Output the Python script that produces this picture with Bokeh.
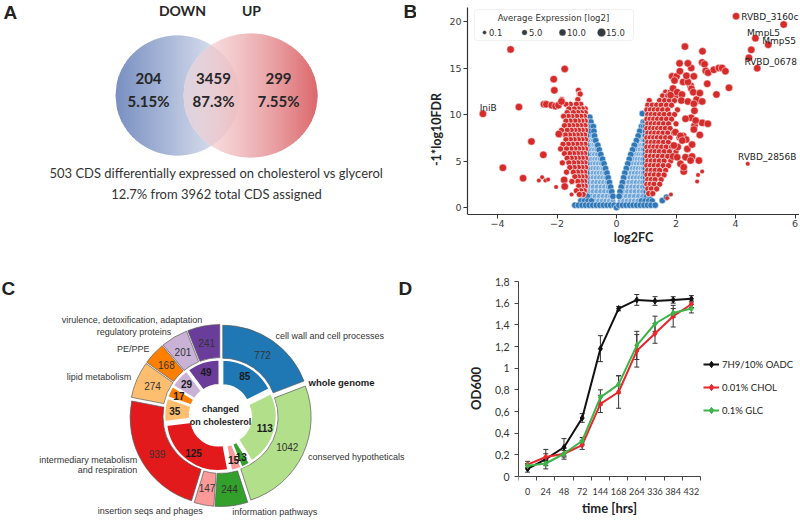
import math
from bokeh.plotting import figure
from bokeh.layouts import column, row
from bokeh.models import (ColumnDataSource, Range1d, FixedTicker, Whisker, TeeHead,
                          Legend, LegendItem, BoxAnnotation, CustomJSTickFormatter)
from bokeh.core.properties import value
from bokeh.embed import file_html
from bokeh.resources import INLINE

# ---------------- Panel A: Venn ----------------
venn_sets = ["DOWN", "UP"]
venn_counts = ["204", "3459", "299"]
venn_pcts = ["5.15%", "87.3%", "7.55%"]
venn_caption = ["503 CDS differentially expressed on cholesterol vs glycerol",
                "12.7% from 3962 total CDS assigned"]

# ---------------- Panel B: volcano ----------------
b_xticks = [-4, -2, 0, 2, 4, 6]
b_yticks = [0, 5, 10, 15, 20]
blue_solid = [
    (-0.97, 9.7), (-0.9, 9.7),
    (-1.0, 9.2), (-0.93, 9.2), (-0.86, 9.2),
    (-1.0, 8.7), (-0.92, 8.7), (-0.84, 8.7), (-0.78, 8.7),
    (-1.0, 8.2), (-0.93, 8.2), (-0.76, 8.2),
    (-1.0, 7.7), (-0.74, 7.7), (-1.0, 7.2), (-0.7, 7.2),
    (-1.0, 6.7), (-0.63, 6.7), (-1.0, 6.2), (-0.58, 6.2),
    (-1.0, 5.7), (-0.53, 5.7), (-1.0, 5.2), (-0.47, 5.2),
    (-1.0, 4.7), (-0.42, 4.7), (-1.0, 4.2), (-0.37, 4.2),
    (-1.0, 3.7), (-0.32, 3.7), (-1.0, 3.2), (-0.28, 3.2),
    (-1.02, 2.7), (-0.24, 2.7), (-1.04, 2.2), (-0.2, 2.2),
    (-1.06, 1.7), (-0.16, 1.7), (-1.1, 1.2), (-0.98, 1.2), (-0.12, 1.2),
    (-1.2, 0.7), (-1.08, 0.7), (-0.96, 0.7), (-0.84, 0.7),
    (-1.4, 0.25), (-1.28, 0.25), (-1.16, 0.25), (-1.04, 0.25), (-0.92, 0.25),
    (-0.8, 0.25), (-0.68, 0.25), (-0.56, 0.25), (-0.44, 0.25), (-0.32, 0.25),
    (-0.2, 0.25), (-0.08, 0.25), (0.0, 0.0),
    (0.87, 10.1), (0.9, 9.2), (0.96, 9.2),
    (0.84, 8.7), (0.91, 8.7), (0.97, 8.7), (0.78, 8.2), (0.97, 8.2),
    (0.73, 7.7), (0.97, 7.7), (0.67, 7.2), (0.97, 7.2),
    (0.6, 6.7), (0.97, 6.7), (0.54, 6.2), (0.97, 6.2),
    (0.48, 5.7), (0.97, 5.7), (0.43, 5.2), (0.97, 5.2),
    (0.38, 4.7), (0.97, 4.7), (0.33, 4.2), (0.97, 4.2),
    (0.28, 3.7), (0.97, 3.7), (0.24, 3.2), (0.98, 3.2),
    (0.2, 2.7), (0.98, 2.7), (0.16, 2.2), (0.99, 2.2),
    (0.12, 1.7), (1.0, 1.7), (0.09, 1.2), (1.02, 1.2), (1.12, 1.2),
    (0.84, 0.7), (0.96, 0.7), (1.08, 0.7), (1.2, 0.7),
    (0.08, 0.25), (0.2, 0.25), (0.32, 0.25), (0.44, 0.25), (0.56, 0.25),
    (0.68, 0.25), (0.8, 0.25), (0.92, 0.25), (1.04, 0.25), (1.16, 0.25), (1.3, 0.25),
    (1.54, 0.75), (1.68, 1.1),
]
blue_light = [
    (-0.86, 8.2), (-0.93, 7.7), (-0.84, 7.7),
    (-0.92, 7.2), (-0.84, 7.2), (-0.77, 7.2),
    (-0.92, 6.7), (-0.84, 6.7), (-0.76, 6.7), (-0.69, 6.7),
    (-0.92, 6.2), (-0.83, 6.2), (-0.74, 6.2), (-0.66, 6.2),
    (-0.92, 5.7), (-0.83, 5.7), (-0.74, 5.7), (-0.64, 5.7),
    (-0.91, 5.2), (-0.82, 5.2), (-0.73, 5.2), (-0.64, 5.2), (-0.55, 5.2),
    (-0.91, 4.7), (-0.81, 4.7), (-0.71, 4.7), (-0.61, 4.7), (-0.51, 4.7),
    (-0.9, 4.2), (-0.8, 4.2), (-0.7, 4.2), (-0.6, 4.2), (-0.5, 4.2), (-0.44, 4.2),
    (-0.9, 3.7), (-0.79, 3.7), (-0.68, 3.7), (-0.58, 3.7), (-0.48, 3.7), (-0.39, 3.7),
    (-0.9, 3.2), (-0.79, 3.2), (-0.68, 3.2), (-0.57, 3.2), (-0.46, 3.2), (-0.36, 3.2),
    (-0.9, 2.7), (-0.78, 2.7), (-0.66, 2.7), (-0.54, 2.7), (-0.43, 2.7), (-0.32, 2.7),
    (-0.9, 2.2), (-0.78, 2.2), (-0.65, 2.2), (-0.52, 2.2), (-0.4, 2.2), (-0.28, 2.2),
    (-0.92, 1.7), (-0.79, 1.7), (-0.66, 1.7), (-0.53, 1.7), (-0.4, 1.7), (-0.27, 1.7),
    (-0.85, 1.2), (-0.72, 1.2), (-0.58, 1.2), (-0.45, 1.2), (-0.32, 1.2), (-0.2, 1.2),
    (-0.72, 0.7), (-0.6, 0.7), (-0.48, 0.7), (-0.36, 0.7), (-0.24, 0.7), (-0.12, 0.7),
    (0.86, 8.2), (0.82, 7.7), (0.9, 7.7),
    (0.76, 7.2), (0.84, 7.2), (0.91, 7.2),
    (0.69, 6.7), (0.77, 6.7), (0.85, 6.7), (0.92, 6.7),
    (0.63, 6.2), (0.72, 6.2), (0.8, 6.2), (0.89, 6.2),
    (0.57, 5.7), (0.66, 5.7), (0.75, 5.7), (0.84, 5.7), (0.91, 5.7),
    (0.52, 5.2), (0.61, 5.2), (0.7, 5.2), (0.79, 5.2), (0.88, 5.2),
    (0.47, 4.7), (0.57, 4.7), (0.67, 4.7), (0.77, 4.7), (0.87, 4.7),
    (0.43, 4.2), (0.53, 4.2), (0.63, 4.2), (0.73, 4.2), (0.83, 4.2), (0.9, 4.2),
    (0.38, 3.7), (0.49, 3.7), (0.6, 3.7), (0.71, 3.7), (0.82, 3.7), (0.9, 3.7),
    (0.34, 3.2), (0.45, 3.2), (0.56, 3.2), (0.67, 3.2), (0.78, 3.2), (0.88, 3.2),
    (0.3, 2.7), (0.42, 2.7), (0.54, 2.7), (0.66, 2.7), (0.78, 2.7), (0.88, 2.7),
    (0.27, 2.2), (0.39, 2.2), (0.51, 2.2), (0.63, 2.2), (0.75, 2.2), (0.87, 2.2),
    (0.24, 1.7), (0.37, 1.7), (0.5, 1.7), (0.63, 1.7), (0.76, 1.7), (0.88, 1.7),
    (0.2, 1.2), (0.33, 1.2), (0.46, 1.2), (0.6, 1.2), (0.74, 1.2), (0.88, 1.2),
    (0.12, 0.7), (0.24, 0.7), (0.36, 0.7), (0.48, 0.7), (0.6, 0.7), (0.72, 0.7),
]
red_dense = [
    (-1.28, 12.6), (-1.25, 12.2), (-1.22, 12.2), (-1.3, 11.6), (-1.84, 11.6),
    (-1.2, 11.1), (-1.35, 11.1), (-1.55, 11.1), (-1.7, 11.1),
    (-1.05, 10.6), (-1.15, 10.6), (-1.28, 10.6), (-1.42, 10.6), (-1.6, 10.6),
    (-1.05, 10.2), (-1.18, 10.2), (-1.3, 10.2), (-1.45, 10.2), (-1.66, 10.2),
    (-1.08, 9.8), (-1.2, 9.8), (-1.34, 9.8), (-1.5, 9.8), (-1.62, 9.8), (-1.78, 9.8),
    (-1.05, 9.3), (-1.16, 9.3), (-1.28, 9.3), (-1.4, 9.3), (-1.56, 9.3), (-1.7, 9.3),
    (-1.06, 8.8), (-1.2, 8.8), (-1.33, 8.8), (-1.47, 8.8), (-1.6, 8.8), (-1.75, 8.8),
    (-1.04, 8.3), (-1.15, 8.3), (-1.27, 8.3), (-1.4, 8.3), (-1.52, 8.3), (-1.66, 8.3), (-1.85, 8.3),
    (-1.07, 7.8), (-1.2, 7.8), (-1.32, 7.8), (-1.45, 7.8), (-1.58, 7.8), (-1.72, 7.8), (-1.9, 7.8),
    (-1.04, 7.3), (-1.16, 7.3), (-1.28, 7.3), (-1.42, 7.3), (-1.55, 7.3), (-1.7, 7.3),
    (-1.06, 6.8), (-1.2, 6.8), (-1.33, 6.8), (-1.48, 6.8), (-1.62, 6.8), (-1.8, 6.8),
    (-1.04, 6.3), (-1.15, 6.3), (-1.27, 6.3), (-1.4, 6.3), (-1.53, 6.3), (-1.68, 6.3), (-1.88, 6.3),
    (-1.07, 5.8), (-1.19, 5.8), (-1.31, 5.8), (-1.44, 5.8), (-1.58, 5.8), (-1.75, 5.8),
    (-1.04, 5.3), (-1.15, 5.3), (-1.28, 5.3), (-1.4, 5.3), (-1.52, 5.3), (-1.66, 5.3),
    (-1.06, 4.8), (-1.18, 4.8), (-1.3, 4.8), (-1.44, 4.8), (-1.6, 4.8), (-1.82, 4.8),
    (-1.04, 4.3), (-1.16, 4.3), (-1.28, 4.3), (-1.42, 4.3), (-1.57, 4.3),
    (-1.07, 3.8), (-1.19, 3.8), (-1.31, 3.8), (-1.45, 3.8), (-1.68, 3.8),
    (-1.05, 3.3), (-1.16, 3.3), (-1.28, 3.3), (-1.4, 3.3),
    (-1.07, 2.8), (-1.18, 2.8), (-1.3, 2.8), (-1.5, 2.8),
    (-1.05, 2.3), (-1.16, 2.3), (-1.27, 2.3), (-1.08, 1.8), (-1.2, 1.8), (-1.35, 1.8),
    (-1.12, 1.4), (-1.25, 1.4),
    (1.65, 12.4), (1.8, 12.4), (1.55, 12.0), (1.72, 12.0), (1.88, 12.0), (2.0, 12.0),
    (1.1, 11.5), (1.45, 11.5), (1.62, 11.5), (1.78, 11.5), (1.95, 11.5),
    (1.05, 11.0), (1.2, 11.0), (1.35, 11.0), (1.5, 11.0), (1.68, 11.0), (1.85, 11.0),
    (1.02, 10.5), (1.14, 10.5), (1.27, 10.5), (1.4, 10.5), (1.55, 10.5), (1.72, 10.5), (2.05, 10.5),
    (1.05, 10.0), (1.17, 10.0), (1.3, 10.0), (1.45, 10.0), (1.6, 10.0), (1.78, 10.0), (1.95, 10.0),
    (1.02, 9.5), (1.13, 9.5), (1.25, 9.5), (1.38, 9.5), (1.52, 9.5), (1.68, 9.5), (1.85, 9.5),
    (1.05, 9.0), (1.17, 9.0), (1.3, 9.0), (1.43, 9.0), (1.58, 9.0), (1.75, 9.0), (2.0, 9.0),
    (1.02, 8.5), (1.14, 8.5), (1.26, 8.5), (1.38, 8.5), (1.5, 8.5), (1.64, 8.5), (1.8, 8.5),
    (1.05, 8.0), (1.17, 8.0), (1.29, 8.0), (1.42, 8.0), (1.56, 8.0), (1.72, 8.0), (1.92, 8.0),
    (1.02, 7.5), (1.13, 7.5), (1.25, 7.5), (1.37, 7.5), (1.5, 7.5), (1.65, 7.5), (1.8, 7.5), (2.1, 7.5),
    (1.05, 7.0), (1.17, 7.0), (1.29, 7.0), (1.42, 7.0), (1.57, 7.0), (1.74, 7.0),
    (1.02, 6.5), (1.14, 6.5), (1.26, 6.5), (1.39, 6.5), (1.52, 6.5), (1.67, 6.5), (1.85, 6.5),
    (1.05, 6.0), (1.17, 6.0), (1.3, 6.0), (1.44, 6.0), (1.6, 6.0), (1.78, 6.0), (2.0, 6.0),
    (1.02, 5.5), (1.14, 5.5), (1.27, 5.5), (1.4, 5.5), (1.55, 5.5), (1.72, 5.5),
    (1.05, 5.0), (1.17, 5.0), (1.3, 5.0), (1.44, 5.0), (1.6, 5.0), (1.82, 5.0),
    (1.02, 4.5), (1.14, 4.5), (1.27, 4.5), (1.41, 4.5), (1.57, 4.5), (1.75, 4.5),
    (1.05, 4.0), (1.17, 4.0), (1.3, 4.0), (1.45, 4.0), (1.65, 4.0),
    (1.02, 3.5), (1.14, 3.5), (1.27, 3.5), (1.42, 3.5), (1.6, 3.5),
    (1.05, 3.0), (1.17, 3.0), (1.3, 3.0), (1.5, 3.0),
    (1.02, 2.5), (1.13, 2.5), (1.26, 2.5), (1.45, 2.5),
    (1.05, 2.0), (1.17, 2.0), (1.35, 2.0), (1.08, 1.5), (1.22, 1.5),
]
red_big = [
    (-4.49, 10.07), (-3.56, 17.0), (-3.82, 4.27), (-3.28, 10.8), (-3.14, 3.15),
    (-2.86, 7.1), (-2.46, 5.66), (-2.44, 11.1), (-2.36, 11.1), (-2.18, 11.0),
    (-2.05, 10.9), (-1.95, 11.0), (-1.85, 11.4), (-2.11, 13.8), (-2.09, 12.6),
    (-1.74, 14.9), (-1.94, 7.9), (-1.76, 2.97), (-1.74, 2.26),
    (1.82, 12.1), (1.9, 12.8), (2.04, 12.4), (2.2, 12.15), (2.49, 13.1), (2.52, 12.76),
    (2.58, 12.4), (2.74, 11.5), (2.69, 11.6), (2.88, 11.4), (2.8, 12.3), (2.18, 11.5),
    (2.4, 11.4), (2.6, 11.15), (2.62, 10.4), (2.51, 9.64), (2.32, 9.53), (2.88, 9.1),
    (3.07, 9.0), (2.62, 8.8), (2.6, 8.4), (2.8, 7.8), (2.24, 7.7), (2.34, 7.3),
    (2.06, 6.5), (2.38, 6.3), (2.54, 6.77), (1.9, 5.48), (2.32, 5.41), (2.54, 5.48),
    (2.77, 5.05), (2.26, 3.87), (2.24, 13.5), (2.4, 13.5), (2.35, 14.16), (2.6, 14.1),
    (1.87, 14.1), (2.02, 14.1), (1.95, 13.65), (2.13, 14.66), (2.51, 15.0), (2.12, 15.5),
    (2.4, 15.5), (2.3, 17.3), (2.89, 16.8), (2.88, 15.6), (2.96, 15.4), (3.0, 14.7),
    (3.08, 14.5), (3.27, 14.8), (3.44, 15.0), (3.55, 15.0), (3.66, 14.66), (3.05, 13.3),
    (3.36, 12.15), (3.78, 12.87), (4.45, 16.1), (4.53, 16.95), (4.73, 14.98),
    (5.1, 17.5), (4.67, 18.2), (5.62, 19.68), (4.02, 20.57),
    (1.98, 8.1), (2.15, 7.7), (2.21, 7.2), (1.93, 6.67), (2.04, 5.4), (2.15, 4.7),
    (2.49, 5.05), (2.26, 4.33), (2.66, 9.35),
]
red_small = [
    (-2.61, 2.9), (-2.5, 3.26), (-2.39, 2.9), (-2.3, 3.0), (-2.03, 2.2), (-1.51, 1.4),
    (2.88, 3.87), (2.74, 3.5), (2.71, 2.8), (1.83, 1.4), (4.41, 4.7), (1.7, 1.0),
]
gene_labels = ["RVBD_3160c", "MmpL5", "MmpS5", "RVBD_0678", "RVBD_2856B", "IniB"]
gene_lab_x = [4.19, 4.39, 4.9, 4.3, 4.08, -4.6]
gene_lab_y = [20.47, 18.78, 17.9, 15.6, 5.4, 10.7]
size_legend_labels = ["0.1", "5.0", "10.0", "15.0"]
size_legend_px = [4, 5.5, 7, 8.5]

# ---------------- Panel C: nested donut ----------------
cat_names = ["cell wall and cell processes", "conserved hypotheticals",
             "information pathways", "insertion seqs and phages",
             "intermediary metabolism\nand respiration", "lipid metabolism",
             "PE/PPE", "regulatory proteins", "virulence, detoxification, adaptation"]
genome_counts = [772, 1042, 244, 147, 939, 274, 168, 201, 241]
changed_counts = [85, 113, 13, 15, 125, 35, 17, 29, 49]
cat_colors = ["#1f78b4", "#b2df8a", "#33a02c", "#fb9a99", "#e31a1c",
              "#fdbf6f", "#ff7f00", "#cab2d6", "#6a3d9a"]

# ---------------- Panel D: growth curves ----------------
times = ["0", "24", "48", "72", "144", "168", "264", "336", "384", "432"]
od_oadc = [0.07, 0.16, 0.27, 0.54, 1.18, 1.55, 1.63, 1.62, 1.63, 1.64]
err_oadc = [0.03, 0.09, 0.08, 0.04, 0.12, 0.02, 0.05, 0.04, 0.03, 0.03]
od_chol = [0.11, 0.18, 0.21, 0.29, 0.67, 0.78, 1.16, 1.32, 1.48, 1.59]
err_chol = [0.03, 0.03, 0.05, 0.04, 0.08, 0.15, 0.15, 0.09, 0.10, 0.03]
od_glc = [0.10, 0.12, 0.21, 0.33, 0.73, 0.85, 1.21, 1.41, 1.51, 1.55]
err_glc = [0.02, 0.02, 0.03, 0.03, 0.07, 0.08, 0.13, 0.07, 0.04, 0.04]
series_names = ["7H9/10% OADC", "0.01% CHOL", "0.1% GLC"]
series_colors = ["#111111", "#e8262b", "#3cb44a"]
d_yticks = [0, 0.2, 0.4, 0.6, 0.8, 1.0, 1.2, 1.4, 1.6, 1.8]

CAL = "Lato"
MPL = "DejaVu Sans"
NAR = "Liberation Sans"

W_LEFT, W_RIGHT = 416, 383
H_TOP, H_BOT = 258, 260


def blank_fig(w, h):
    p = figure(width=w, height=h, x_range=Range1d(0, w), y_range=Range1d(0, h),
               output_backend="svg", toolbar_location=None,
               x_axis_location=None, y_axis_location=None,
               min_border_left=0, min_border_right=0, min_border_top=0, min_border_bottom=0)
    p.grid.visible = False
    p.outline_line_color = None
    return p


def hexc(c):
    return "#%02x%02x%02x" % tuple(int(round(max(0, min(255, v)))) for v in c)


def mix(c1, c2, t):
    t = max(0.0, min(1.0, t))
    return tuple(c1[i] + (c2[i] - c1[i]) * t for i in range(3))


# ================= Panel A =================
pA = blank_fig(W_LEFT, H_TOP)


def ax(wx):
    return wx


def ay(wy):
    return H_TOP - wy


L = dict(cx=177, cy=95, rx=62, ry=60)
R = dict(cx=250, cy=95, rx=67, ry=62)
L_c0, L_c1 = (120, 143, 193), (238, 240, 247)
R_c0, R_c1 = (248, 224, 226), (220, 104, 108)
WHITE = (255, 255, 255)


def half_h(x, e):
    u = (x - e["cx"]) / e["rx"]
    return e["ry"] * math.sqrt(max(0.0, 1 - u * u))


def colL(x):
    return mix(L_c0, L_c1, (x - (L["cx"] - L["rx"])) / (2 * L["rx"]))


def colR_over(x, under):
    t = (x - (R["cx"] - R["rx"])) / (2 * R["rx"])
    a = 0.55 + 0.45 * max(0, min(1, t))
    return mix(under, mix(R_c0, R_c1, t), a)


def strips(x_lo, x_hi, hfun, cy, colfun, step=1.5):
    xs_l, ys_l, cols = [], [], []
    n = int(math.ceil((x_hi - x_lo) / step))
    for i in range(n):
        x0 = x_lo + i * step
        x1 = min(x_hi, x0 + step + 0.7)
        xm = [x0, (x0 + x1) / 2, x1]
        top = [cy - hfun(x) for x in xm]
        bot = [cy + hfun(x) for x in xm]
        px = xm + xm[::-1]
        py = top + bot[::-1]
        xs_l.append([ax(v) for v in px])
        ys_l.append([ay(v) for v in py])
        cols.append(hexc(colfun((x0 + x1) / 2)))
    return xs_l, ys_l, cols


allx, ally, allc = [], [], []
for part in (
    strips(L["cx"] - L["rx"], L["cx"] + L["rx"], lambda x: half_h(x, L), L["cy"], colL),
    strips(R["cx"] - R["rx"], R["cx"] + R["rx"], lambda x: half_h(x, R), R["cy"],
           lambda x: colR_over(x, WHITE)),
    strips(R["cx"] - R["rx"], L["cx"] + L["rx"], lambda x: min(half_h(x, L), half_h(x, R)),
           L["cy"], lambda x: colR_over(x, colL(x))),
):
    allx += part[0]
    ally += part[1]
    allc += part[2]
pA.patches("xs", "ys", source=ColumnDataSource(dict(xs=allx, ys=ally, c=allc)),
           fill_color="c", line_color=None)

pA.text(x=[ax(182), ax(251)], y=[ay(10), ay(10)], text=venn_sets,
        text_font=value(CAL), text_font_style="bold", text_font_size="14px",
        text_color="#262626", text_align="center", text_baseline="middle")
num_x = [ax(148), ax(213), ax(278)]
pA.text(x=num_x, y=[ay(78)] * 3, text=venn_counts,
        text_font=value(CAL), text_font_style="bold", text_font_size="15px",
        text_color="#262626", text_align="center", text_baseline="middle")
pA.text(x=num_x, y=[ay(100)] * 3, text=venn_pcts,
        text_font=value(CAL), text_font_style="bold", text_font_size="15px",
        text_color="#262626", text_align="center", text_baseline="middle")
pA.text(x=[ax(216), ax(216)], y=[ay(172), ay(193)], text=venn_caption,
        text_font=value(CAL), text_font_size="13px", text_color="#333333",
        text_align="center", text_baseline="middle")
pA.text(x=[ax(3), ax(403)], y=[ay(12), ay(11)], text=["A", "B"],
        text_font=value(NAR), text_font_style="bold", text_font_size="19px",
        text_color="#222222", text_align="left", text_baseline="middle")

# ================= Panel B =================
PXB = 29.75
X0B = 616.0
Y0B, PYB = 207.0, 9.3
pB_left = 467 - W_LEFT
pB = figure(width=W_RIGHT, height=H_TOP,
            x_range=Range1d((467 - X0B) / PXB, (W_LEFT + W_RIGHT - X0B) / PXB),
            y_range=Range1d(-(H_TOP - Y0B) / PYB, Y0B / PYB),
            output_backend="svg", toolbar_location=None,
            min_border_left=pB_left, min_border_right=0, min_border_top=0, min_border_bottom=0)
pB.outline_line_color = None
pB.grid.visible = False
for axis in (pB.xaxis[0], pB.yaxis[0]):
    axis.axis_line_color = "#333333"
    axis.axis_line_width = 1.2
    axis.major_tick_line_color = "#333333"
    axis.major_tick_out = 4
    axis.major_tick_in = 0
    axis.minor_tick_line_color = None
    axis.major_label_text_font = MPL
    axis.major_label_text_font_size = "9.5px"
    axis.major_label_text_color = "#3a3a3a"
    axis.major_label_standoff = 2
    axis.axis_label_text_font = CAL
    axis.axis_label_text_font_style = "bold"
    axis.axis_label_text_font_size = "12.5px"
    axis.axis_label_text_color = "#222222"
    axis.axis_label_standoff = 2
spine_y = -(214 - Y0B) / PYB
pB.xaxis.fixed_location = spine_y
pB.yaxis.bounds = (spine_y, (Y0B - 7) / PYB)
pB.xaxis.ticker = FixedTicker(ticks=b_xticks)
pB.yaxis.ticker = FixedTicker(ticks=b_yticks)
pB.xaxis.axis_label = "log2FC"
pB.yaxis.axis_label = "-1*log10FDR"
pB.xaxis.major_label_standoff = 1
pB.xaxis.axis_label_standoff = 0


def unzip(pts):
    return [p[0] for p in pts], [p[1] for p in pts]


bx, by = unzip(blue_light)
pB.scatter(bx, by, size=6, fill_color="#6fa5d9", line_color="white", line_width=0.6)
bx, by = unzip(blue_solid)
pB.scatter(bx, by, size=6.5, fill_color="#2f78b8", line_color="white", line_width=0.5)
rx_, ry_ = unzip(red_dense)
pB.scatter(rx_, ry_, size=6.2, fill_color="#d62b2b", line_color="white", line_width=0.7)
rx_, ry_ = unzip(red_big)
pB.scatter(rx_, ry_, size=7.5, fill_color="#d62b2b", line_color="white", line_width=0.5)
rx_, ry_ = unzip(red_small)
pB.scatter(rx_, ry_, size=4.5, fill_color="#d62b2b", line_color="white", line_width=0.4)
pB.text(x=gene_lab_x, y=gene_lab_y, text=gene_labels, text_font=value(MPL),
        text_font_size="9px", text_color="#222222", text_baseline="middle", text_align="left")

# size legend (box + dots)
pB.add_layout(BoxAnnotation(left=(474 - X0B) / PXB, right=(633 - X0B) / PXB,
                            bottom=(Y0B - 40) / PYB, top=(Y0B - 9) / PYB,
                            fill_color="white", fill_alpha=0.9, line_color="#d0d0d0",
                            line_width=1, border_radius=3))
pB.text(x=[(553 - X0B) / PXB], y=[(Y0B - 17) / PYB], text=["Average Expression [log2]"],
        text_font=value(MPL), text_font_size="8.5px", text_color="#333333",
        text_align="center", text_baseline="middle", level="overlay")
leg_dot_x = [(v - X0B) / PXB for v in (484, 524, 562, 601)]
leg_y = (Y0B - 32) / PYB
pB.scatter(leg_dot_x, [leg_y] * 4, size=size_legend_px, fill_color="#333a40",
           line_color="white", line_width=0.4, level="overlay")
pB.text(x=[v + 0.15 for v in leg_dot_x], y=[leg_y] * 4, text=size_legend_labels,
        text_font=value(MPL), text_font_size="8.5px", text_color="#333333",
        text_align="left", text_baseline="middle", level="overlay")

# ================= Panel C =================
pC = blank_fig(W_LEFT, H_BOT)
TOPC = H_TOP + H_BOT
cxC, cyC = 220.0, TOPC - 415.0
r_hole, r_in_out, r_out_in, r_out_out = 27.0, 52.0, 54.0, 87.0
expl = 4.0


def ring(values, lab_r):
    tot = float(sum(values))
    cum = 0.0
    d = dict(x=[], y=[], sa=[], ea=[], c=[], lx=[], ly=[], t=[], mid=[])
    for v, col in zip(values, cat_colors):
        th0 = cum / tot * 360.0
        th1 = (cum + v) / tot * 360.0
        mid = math.radians((th0 + th1) / 2)
        ox = cxC + expl * math.sin(mid)
        oy = cyC + expl * math.cos(mid)
        d["x"].append(ox)
        d["y"].append(oy)
        d["sa"].append(90.0 - th1)
        d["ea"].append(90.0 - th0)
        d["c"].append(col)
        d["lx"].append(ox + lab_r * math.sin(mid))
        d["ly"].append(oy + lab_r * math.cos(mid))
        d["t"].append(str(v))
        d["mid"].append(mid)
        cum += v
    return d


outer = ring(genome_counts, 70.0)
inner = ring(changed_counts, 42.0)
pC.annular_wedge(x="x", y="y", inner_radius=r_out_in, outer_radius=r_out_out,
                 start_angle="sa", end_angle="ea", start_angle_units="deg", end_angle_units="deg",
                 fill_color="c", line_color="#5a5a5a", line_width=0.7,
                 source=ColumnDataSource({k: outer[k] for k in ("x", "y", "sa", "ea", "c")}))
pC.annular_wedge(x="x", y="y", inner_radius=r_hole, outer_radius=r_in_out,
                 start_angle="sa", end_angle="ea", start_angle_units="deg", end_angle_units="deg",
                 fill_color="c", line_color="white", line_width=1.5,
                 source=ColumnDataSource({k: inner[k] for k in ("x", "y", "sa", "ea", "c")}))
pC.text(x=outer["lx"], y=outer["ly"], text=outer["t"], text_font=value(NAR),
        text_font_size="10px", text_color="#333333", text_align="center", text_baseline="middle")
pC.text(x=inner["lx"], y=inner["ly"], text=inner["t"], text_font=value(NAR),
        text_font_style="bold", text_font_size="10px", text_color="#1a1a1a",
        text_align="center", text_baseline="middle")
lab_r = 97.0
nm_x, nm_y, nm_al = [], [], []
for mid in outer["mid"]:
    nm_x.append(cxC + lab_r * math.sin(mid))
    nm_y.append(cyC + lab_r * math.cos(mid))
    nm_al.append("left" if math.sin(mid) > 0 else "right")
pC.text(x=nm_x, y=nm_y, text=cat_names, text_align=nm_al, text_font=value(NAR),
        text_font_size="9px", text_color="#333333", text_baseline="middle",
        text_line_height=1.0)
pC.text(x=[cxC, cxC], y=[cyC + 7, cyC - 6], text=["changed", "on cholesterol"],
        text_font=value(NAR), text_font_style="bold", text_font_size="9px",
        text_color="#1a1a1a", text_align="center", text_baseline="middle")
pC.text(x=[308], y=[TOPC - 382], text=["whole genome"], text_font=value(NAR),
        text_font_style="bold", text_font_size="9.5px", text_color="#1a1a1a",
        text_align="left", text_baseline="middle")
pC.text(x=[1, 398], y=[TOPC - 288, TOPC - 288], text=["C", "D"], text_font=value(NAR),
        text_font_style="bold", text_font_size="19px", text_color="#222222",
        text_align="left", text_baseline="middle")

# ================= Panel D =================
xi = list(range(len(times)))
PXD = 18.2
PYD = (476 - 281) / 1.8
FRAME_LEFT_D = 518
pD = figure(width=W_RIGHT, height=H_BOT,
            x_range=Range1d(-0.5, -0.5 + (W_LEFT + W_RIGHT - FRAME_LEFT_D) / PXD),
            y_range=Range1d(-(TOPC - 476) / PYD, 1.8 + (281 - H_TOP) / PYD),
            output_backend="svg", toolbar_location=None,
            min_border_left=FRAME_LEFT_D - W_LEFT, min_border_right=0,
            min_border_top=0, min_border_bottom=0)
pD.outline_line_color = None
pD.grid.visible = False
for axis in (pD.xaxis[0], pD.yaxis[0]):
    axis.axis_line_color = "#444444"
    axis.axis_line_width = 1
    axis.major_label_text_font = CAL
    axis.major_label_text_color = "#333333"
    axis.axis_label_text_font = CAL
    axis.axis_label_text_font_style = "bold"
    axis.axis_label_text_font_size = "13px"
    axis.axis_label_text_color = "#222222"
pD.xaxis.fixed_location = 0
pD.xaxis.bounds = (-0.5, len(times) - 0.5)
pD.xaxis.ticker = FixedTicker(ticks=xi, minor_ticks=[i - 0.5 for i in range(len(times) + 1)])
pD.xaxis.major_label_overrides = {i: t for i, t in enumerate(times)}
pD.xaxis.major_label_text_font_size = "9px"
pD.xaxis.major_tick_line_color = None
pD.xaxis.minor_tick_line_color = "#444444"
pD.xaxis.minor_tick_out = 4
pD.xaxis.minor_tick_in = 0
pD.xaxis.major_label_standoff = 5
pD.xaxis.axis_label_standoff = 2
pD.yaxis.bounds = (0, 1.8)
pD.yaxis.ticker = FixedTicker(ticks=d_yticks)
pD.yaxis.formatter = CustomJSTickFormatter(
    code="var s = (Math.round(tick * 10) / 10).toString(); return s.replace('.', ',');")
pD.yaxis.major_label_text_font_size = "10.5px"
pD.yaxis.major_tick_line_color = "#444444"
pD.yaxis.major_tick_out = 4
pD.yaxis.major_tick_in = 0
pD.yaxis.minor_tick_line_color = None
pD.yaxis.major_label_standoff = 5
pD.yaxis.axis_label_standoff = 8
pD.xaxis.axis_label = "time [hrs]"
pD.yaxis.axis_label = "OD600"

items = []
for name, col, od, err in zip(series_names, series_colors,
                              [od_oadc, od_chol, od_glc], [err_oadc, err_chol, err_glc]):
    lr = pD.line(xi, od, line_color=col, line_width=2)
    sr = pD.scatter(xi, od, marker="diamond", size=6, fill_color=col, line_color=col)
    src = ColumnDataSource(dict(x=xi, lo=[o - e for o, e in zip(od, err)],
                                hi=[o + e for o, e in zip(od, err)]))
    pD.add_layout(Whisker(base="x", lower="lo", upper="hi", source=src,
                          line_color="#333333", line_width=1,
                          upper_head=TeeHead(size=5, line_color="#333333", line_width=1),
                          lower_head=TeeHead(size=5, line_color="#333333", line_width=1)))
    items.append(LegendItem(label=name, renderers=[lr, sr]))
leg = Legend(items=items, location=(703 - FRAME_LEFT_D, TOPC - 420))
leg.padding = 0
leg.margin = 0
leg.spacing = 3
leg.glyph_width = 16
leg.glyph_height = 20
leg.label_height = 20
leg.label_standoff = 3
leg.border_line_color = None
leg.background_fill_alpha = 0
leg.label_text_font = CAL
leg.label_text_font_size = "9.5px"
leg.label_text_color = "#222222"
pD.add_layout(leg)

layout = column(row(pA, pB), row(pC, pD))
open("out.html", "w").write(file_html(layout, INLINE))
